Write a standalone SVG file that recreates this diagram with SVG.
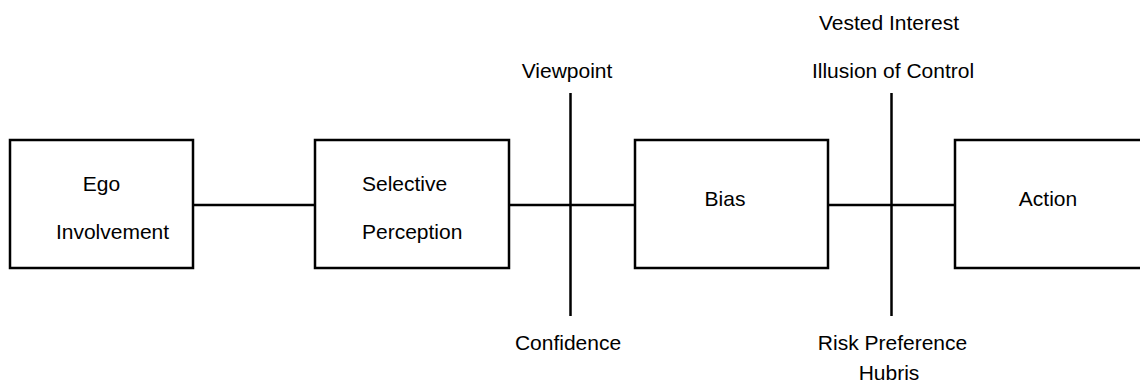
<svg xmlns="http://www.w3.org/2000/svg" width="1140" height="384" viewBox="0 0 1140 384">
<style>
.box{fill:#fff;stroke:#000;stroke-width:2.5}
.ln{stroke:#000;stroke-width:2.5;fill:none}
text{font-family:"Liberation Sans",Arial,sans-serif;font-size:21px;fill:#000}
.c{text-anchor:middle}
</style>
<rect width="1140" height="384" fill="#fff"/>
<g id="connectors">
<line class="ln" x1="193" y1="205" x2="315" y2="205"/>
<line class="ln" x1="509" y1="205" x2="635" y2="205"/>
<line class="ln" x1="828" y1="205" x2="955" y2="205"/>
<line class="ln" x1="570.5" y1="93" x2="570.5" y2="316"/>
<line class="ln" x1="891.5" y1="93" x2="891.5" y2="316"/>
</g>
<g id="ego">
<rect class="box" x="10" y="140" width="183" height="128"/>
<text class="c" x="101.5" y="191">Ego</text>
<text class="c" x="112.5" y="239">Involvement</text>
</g>
<g id="perception">
<rect class="box" x="315" y="140" width="194" height="128"/>
<text x="362" y="191">Selective</text>
<text x="362" y="239">Perception</text>
</g>
<g id="bias">
<rect class="box" x="635" y="140" width="193" height="128"/>
<text class="c" x="725" y="206">Bias</text>
</g>
<g id="action">
<rect class="box" x="955" y="140" width="200" height="128"/>
<text class="c" x="1048" y="206">Action</text>
</g>
<g id="labels">
<text class="c" x="567" y="78">Viewpoint</text>
<text class="c" x="568" y="350">Confidence</text>
<text class="c" x="889" y="30">Vested Interest</text>
<text class="c" x="893" y="78">Illusion of Control</text>
<text class="c" x="892.5" y="350">Risk Preference</text>
<text class="c" x="889" y="380">Hubris</text>
</g>
</svg>
